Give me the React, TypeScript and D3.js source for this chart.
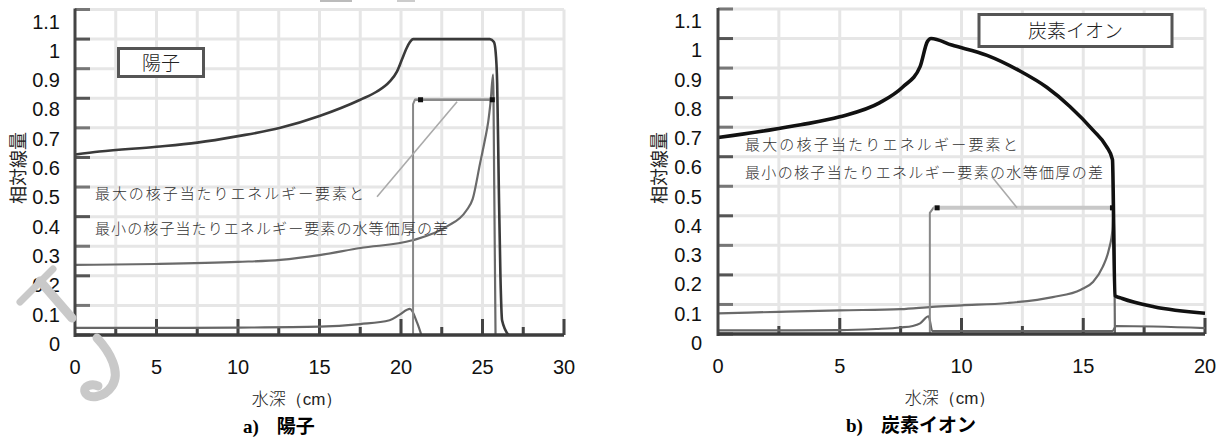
import React from "react";
import * as d3 from "d3";

// ---------- data ----------
const Y_TICKS = [0, 0.1, 0.2, 0.3, 0.4, 0.5, 0.6, 0.7, 0.8, 0.9, 1.0, 1.1];
const Y_TICK_LABELS = ["0", "0.1", "0.2", "0.3", "0.4", "0.5", "0.6", "0.7", "0.8", "0.9", "1", "1.1"];
const PROTON_X_LABELS = [0, 5, 10, 15, 20, 25, 30];
const CARBON_X_LABELS = [0, 5, 10, 15, 20];

// proton (陽子): [depth cm, relative dose]
const protonMax: [number, number][] = [
  [0, 0.61], [1.5, 0.62], [5, 0.636], [7.5, 0.65], [10, 0.672], [12.6, 0.70], [15, 0.74],
  [17.5, 0.795], [18.5, 0.822], [19.3, 0.856], [19.75, 0.89], [20.05, 0.93], [20.35, 0.97],
  [20.55, 0.99], [20.75, 1.0], [22.5, 1.0], [24, 1.0], [25.45, 1.0], [25.7, 0.99],
  [25.8, 0.96], [25.9, 0.85], [26.0, 0.5], [26.1, 0.2], [26.2, 0.05], [26.6, 0],
];
const protonMin: [number, number][] = [
  [0, 0.237], [5, 0.24], [10, 0.247], [12.6, 0.254], [15, 0.27], [17.5, 0.294],
  [20.7, 0.32], [22.8, 0.366], [24.0, 0.42], [24.4, 0.46], [24.85, 0.58], [25.15, 0.66],
  [25.35, 0.72], [25.5, 0.79], [25.65, 0.88], [25.72, 0.5], [25.8, 0],
];
const protonLow: [number, number][] = [
  [0, 0.024], [5, 0.024], [10, 0.025], [15, 0.028], [17.5, 0.037], [19.3, 0.05],
  [19.9, 0.068], [20.55, 0.088], [21.0, 0.04], [21.25, 0],
];
const protonBracket: [number, number][] = [[20.74, 0], [20.74, 0.78], [20.85, 0.795], [25.6, 0.795]];
const protonMarkers: [number, number][] = [[21.2, 0.795], [25.6, 0.795]];
const protonPointer: [number, number][] = [[23.44, 0.788], [18.53, 0.467]];

// carbon (炭素イオン)
const carbonMax: [number, number][] = [
  [0, 0.665], [2.1, 0.69], [3.4, 0.708], [5, 0.735], [6.65, 0.783], [7.6, 0.837],
  [8.3, 0.905], [8.6, 0.99], [8.75, 1.0], [9.6, 0.978], [11.05, 0.943], [12.4, 0.89],
  [13.5, 0.835], [14.45, 0.77], [15.4, 0.69], [15.95, 0.635], [16.2, 0.59],
  [16.3, 0.13], [16.6, 0.12], [17.9, 0.092], [20, 0.07],
];
const carbonMin: [number, number][] = [
  [0, 0.07], [2.5, 0.075], [5, 0.08], [7.5, 0.084], [8.8, 0.092], [10, 0.097],
  [11.9, 0.105], [13.75, 0.125], [14.9, 0.15], [15.4, 0.176], [15.8, 0.227],
  [16.05, 0.285], [16.2, 0.353], [16.25, 0.43], [16.3, 0],
];
const carbonLow: [number, number][] = [
  [0, 0.012], [5, 0.013], [6.5, 0.017], [7.5, 0.022], [8.0, 0.027], [8.3, 0.036],
  [8.65, 0.06], [8.8, 0.01], [16.2, 0.01], [16.35, 0.027], [20, 0.02],
];
const carbonBracket: [number, number][] = [[8.7, 0], [8.7, 0.41], [8.85, 0.427], [16.2, 0.427]];
const carbonMarkers: [number, number][] = [[9.0, 0.427], [16.2, 0.427]];
const carbonPointer: [number, number][] = [[11.25, 0.532], [12.28, 0.427]];

const NOTE1 = "最大の核子当たりエネルギー要素と";
const NOTE2 = "最小の核子当たりエネルギー要素の水等価厚の差";

const SANS = "'Liberation Sans', Arial, sans-serif";
const CJK = "'Noto Sans CJK JP', sans-serif";
const SERIF = "'Liberation Serif', 'Times New Roman', serif";

type PanelProps = {
  x0: number; x1: number; yBottom: number; yTop: number; xMax: number;
  xLabels: number[];
  maxC: [number, number][]; minC: [number, number][]; lowC: [number, number][];
  bracket: [number, number][]; markers: [number, number][]; pointer: [number, number][];
  maxWidth: number; maxColor: string;
  bracketH: { color: string; width: number };
  labelRight: number;
  legend: { x: number; y: number; w: number; h: number; text: string };
  note1: { x: number; y: number }; note2: { x: number; y: number; len: number };
  yTitleX: number; xTitleX: number; subLetter: string; subText: string; subX: number;
};

function Panel(p: PanelProps) {
  const x = d3.scaleLinear().domain([0, p.xMax]).range([p.x0, p.x1]);
  const y = d3.scaleLinear().domain([0, 1.1]).range([p.yBottom, p.yTop]);
  // tick labels appear slightly shifted in the original print
  const yLab = d3.scaleLinear().domain([0, 1.1]).range([p.yBottom + 16, p.yTop + 19]);
  const curve = d3.line<[number, number]>().x((d) => x(d[0])).y((d) => y(d[1])).curve(d3.curveMonotoneX);
  const line = d3.line<[number, number]>().x((d) => x(d[0])).y((d) => y(d[1]));
  const gridX = d3.range(2.5, p.xMax + 0.01, 2.5);
  const gridY = d3.range(1, 12).map((i) => i / 10);
  return (
    <g>
      {/* grid */}
      {gridY.map((v) => (
        <line key={"gy" + v} x1={p.x0} x2={p.x1} y1={y(v)} y2={y(v)} stroke="#e6e6e6" strokeWidth={3} />
      ))}
      {gridX.map((v) => (
        <line key={"gx" + v} x1={x(v)} x2={x(v)} y1={y(1.1)} y2={y(0)} stroke="#e6e6e6" strokeWidth={3} />
      ))}
      {/* y ticks */}
      {Y_TICKS.map((v, i) => (
        <line key={"yt" + v} x1={p.x0} x2={p.x0 + 15} y1={y(v)} y2={y(v)} stroke={i % 2 ? "#777" : "#555"} strokeWidth={3} />
      ))}
      {/* x ticks */}
      {gridX.map((v) => (
        <line key={"xt" + v} x1={x(v)} x2={x(v)} y1={y(0)} y2={y(0) - (v % 5 === 0 ? 16 : 8)} stroke="#444" strokeWidth={3} />
      ))}
      {/* curves */}
      <path d={curve(p.lowC) || ""} fill="none" stroke="#666" strokeWidth={2.2} />
      <path d={curve(p.minC) || ""} fill="none" stroke="#6a6a6a" strokeWidth={2.2} />
      <path d={line(p.bracket) || ""} fill="none" stroke="#888" strokeWidth={2} />
      <line x1={x(p.bracket[2][0])} x2={x(p.bracket[3][0])} y1={y(p.bracket[3][1])} y2={y(p.bracket[3][1])} stroke={p.bracketH.color} strokeWidth={p.bracketH.width} />
      <path d={line(p.pointer) || ""} fill="none" stroke="#aaa" strokeWidth={1.6} />
      <path d={curve(p.maxC) || ""} fill="none" stroke={p.maxColor} strokeWidth={p.maxWidth} strokeLinejoin="round" />
      {p.markers.map((m, i) => (
        <rect key={"mk" + i} x={x(m[0]) - 2.5} y={y(m[1]) - 2.5} width={5} height={5} fill="#111" />
      ))}
      {/* axes */}
      <line x1={p.x0} x2={p.x0} y1={y(1.1) - 1} y2={y(0) + 2} stroke="#444" strokeWidth={3} />
      <line x1={p.x0} x2={p.x1} y1={y(0)} y2={y(0)} stroke="#3c3c3c" strokeWidth={3.5} />
      {/* tick labels */}
      {Y_TICKS.map((v, i) => (
        <text key={"yl" + v} x={p.labelRight} y={yLab(v)} textAnchor="end" fontFamily={SANS} fontSize={20} fill="#111">
          {Y_TICK_LABELS[i]}
        </text>
      ))}
      {p.xLabels.map((v) => (
        <text key={"xl" + v} x={x(v)} y={p.yBottom + 39} textAnchor="middle" fontFamily={SANS} fontSize={20} fill="#111">
          {v}
        </text>
      ))}
      {/* legend box */}
      <rect x={p.legend.x} y={p.legend.y} width={p.legend.w} height={p.legend.h} fill="#fff" stroke="#555" strokeWidth={3} />
      <text x={p.legend.x + p.legend.w / 2} y={p.legend.y + p.legend.h / 2 + 7} textAnchor="middle" fontFamily={CJK} fontSize={19} fill="#222" fontWeight={300}>
        {p.legend.text}
      </text>
      {/* notes */}
      <text x={p.note1.x} y={p.note1.y} fontFamily={CJK} fontSize={15} fill="#333" fontWeight={300} textLength={p.note2.len * 16 / 21} lengthAdjust="spacing">
        {NOTE1}
      </text>
      <text x={p.note2.x} y={p.note2.y} fontFamily={CJK} fontSize={15} fill="#333" fontWeight={300} textLength={p.note2.len} lengthAdjust="spacing">
        {NOTE2}
      </text>
      {/* axis titles */}
      <text transform={`translate(${p.yTitleX},${168}) rotate(-90)`} textAnchor="middle" fontFamily={CJK} fontSize={18} fill="#222" dy="0.35em">
        相対線量
      </text>
      <text x={p.xTitleX} y={p.yBottom + 70} textAnchor="middle" fontFamily={CJK} fontSize={17} fill="#222" fontWeight={300}>
        水深
        <tspan fontFamily={SANS}>（cm）</tspan>
      </text>
      <text x={p.subX} y={p.yBottom + 98} fontFamily={SERIF} fontSize={19} fontWeight="bold" fill="#000">
        {p.subLetter}
        <tspan dx={18} fontFamily={CJK} fontWeight="bold">{p.subText}</tspan>
      </text>
    </g>
  );
}

export default function App() {
  return (
    <svg width={1221} height={443} style={{ position: "absolute", left: 0, top: 0, background: "#fff" }}>
      <rect x={0} y={0} width={1221} height={443} fill="#fff" />
      {/* scan artifacts at top */}
      <rect x={320} y={0} width={32} height={2} fill="#bbb" />
      <rect x={397} y={0} width={18} height={2} fill="#ccc" />
      <Panel
        x0={75} x1={564} yBottom={335} yTop={9.5} xMax={30} xLabels={PROTON_X_LABELS}
        maxC={protonMax} minC={protonMin} lowC={protonLow}
        bracket={protonBracket} markers={protonMarkers} pointer={protonPointer}
        maxWidth={2.6} maxColor="#3a3a3a" bracketH={{ color: "#8a8a8a", width: 2.5 }}
        labelRight={60}
        legend={{ x: 118.5, y: 48.5, w: 85, h: 28, text: "陽子" }}
        note1={{ x: 95, y: 199 }} note2={{ x: 95, y: 234, len: 353 }}
        yTitleX={19} xTitleX={297} subLetter="a)" subText="陽子" subX={243}
      />
      <Panel
        x0={718} x1={1205} yBottom={334} yTop={9} xMax={20} xLabels={CARBON_X_LABELS}
        maxC={carbonMax} minC={carbonMin} lowC={carbonLow}
        bracket={carbonBracket} markers={carbonMarkers} pointer={carbonPointer}
        maxWidth={3.6} maxColor="#111" bracketH={{ color: "#c8c8c8", width: 4 }}
        labelRight={702}
        legend={{ x: 979, y: 14.5, w: 193, h: 32, text: "炭素イオン" }}
        note1={{ x: 745, y: 150 }} note2={{ x: 745, y: 178, len: 358 }}
        yTitleX={660} xTitleX={950} subLetter="b)" subText="炭素イオン" subX={846}
      />
      {/* faint watermark stroke in the lower-left corner */}
      <g fill="none" stroke="#c9c9c9" strokeLinecap="round">
        <path d="M20,302 L53,269" strokeWidth={7} />
        <path d="M40,281 L72,318" strokeWidth={9} />
        <path d="M97,338 C110,352 121,372 112,386 C104,398 88,400 85,392 C83,386 92,383 98,386" strokeWidth={9} />
      </g>
    </svg>
  );
}
